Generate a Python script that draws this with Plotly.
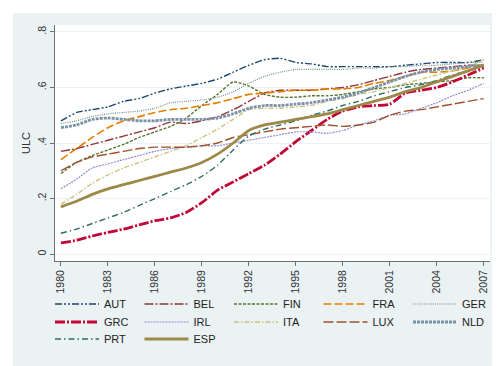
import plotly.graph_objects as go

years = list(range(1980, 2008))
x_ticks = [1980, 1983, 1986, 1989, 1992, 1995, 1998, 2001, 2004, 2007]
y_ticks = [0, 0.2, 0.4, 0.6, 0.8]
y_ticktext = ["0", ".2", ".4", ".6", ".8"]

AUT = [0.48, 0.51, 0.52, 0.53, 0.55, 0.56, 0.58, 0.595, 0.605, 0.615, 0.63, 0.655, 0.68, 0.70, 0.705, 0.69, 0.685, 0.675, 0.675, 0.675, 0.675, 0.675, 0.68, 0.685, 0.69, 0.69, 0.69, 0.70]
BEL = [0.37, 0.38, 0.395, 0.41, 0.425, 0.44, 0.455, 0.475, 0.47, 0.48, 0.495, 0.52, 0.55, 0.58, 0.59, 0.59, 0.59, 0.595, 0.60, 0.61, 0.625, 0.64, 0.655, 0.665, 0.67, 0.675, 0.68, 0.68]
FIN = [0.29, 0.33, 0.355, 0.375, 0.395, 0.42, 0.44, 0.46, 0.49, 0.535, 0.575, 0.62, 0.605, 0.575, 0.565, 0.565, 0.57, 0.57, 0.575, 0.585, 0.595, 0.60, 0.61, 0.615, 0.62, 0.625, 0.635, 0.635]
FRA = [0.34, 0.38, 0.42, 0.455, 0.48, 0.495, 0.51, 0.52, 0.525, 0.535, 0.545, 0.56, 0.575, 0.58, 0.585, 0.59, 0.59, 0.595, 0.595, 0.60, 0.615, 0.625, 0.64, 0.655, 0.655, 0.66, 0.67, 0.685]
GER = [0.47, 0.48, 0.495, 0.505, 0.51, 0.515, 0.525, 0.545, 0.55, 0.555, 0.565, 0.585, 0.615, 0.64, 0.655, 0.665, 0.665, 0.665, 0.665, 0.67, 0.67, 0.675, 0.675, 0.68, 0.68, 0.685, 0.69, 0.69]
GRC = [0.04, 0.05, 0.065, 0.078, 0.09, 0.105, 0.12, 0.13, 0.15, 0.185, 0.23, 0.26, 0.29, 0.32, 0.36, 0.405, 0.445, 0.485, 0.515, 0.53, 0.535, 0.54, 0.58, 0.59, 0.60, 0.62, 0.645, 0.67]
IRL = [0.235, 0.27, 0.31, 0.325, 0.34, 0.355, 0.37, 0.38, 0.385, 0.39, 0.39, 0.40, 0.41, 0.42, 0.43, 0.44, 0.44, 0.435, 0.445, 0.465, 0.48, 0.50, 0.505, 0.525, 0.545, 0.57, 0.59, 0.615]
ITA = [0.18, 0.215, 0.255, 0.285, 0.31, 0.33, 0.35, 0.37, 0.39, 0.42, 0.45, 0.485, 0.52, 0.525, 0.525, 0.53, 0.535, 0.55, 0.56, 0.575, 0.585, 0.60, 0.615, 0.63, 0.645, 0.66, 0.675, 0.70]
LUX = [0.30, 0.33, 0.35, 0.36, 0.37, 0.38, 0.385, 0.385, 0.385, 0.39, 0.40, 0.42, 0.43, 0.44, 0.45, 0.455, 0.46, 0.465, 0.46, 0.465, 0.475, 0.50, 0.515, 0.52, 0.53, 0.54, 0.55, 0.56]
NLD = [0.455, 0.465, 0.485, 0.49, 0.485, 0.48, 0.48, 0.485, 0.485, 0.485, 0.49, 0.505, 0.525, 0.535, 0.535, 0.54, 0.545, 0.555, 0.565, 0.58, 0.60, 0.62, 0.64, 0.655, 0.665, 0.67, 0.675, 0.68]
PRT = [0.075, 0.09, 0.11, 0.13, 0.15, 0.175, 0.20, 0.225, 0.25, 0.28, 0.32, 0.375, 0.425, 0.45, 0.465, 0.48, 0.50, 0.515, 0.535, 0.55, 0.57, 0.585, 0.60, 0.61, 0.625, 0.645, 0.66, 0.675]
ESP = [0.17, 0.19, 0.215, 0.235, 0.25, 0.265, 0.28, 0.295, 0.31, 0.33, 0.36, 0.40, 0.445, 0.465, 0.475, 0.485, 0.495, 0.505, 0.52, 0.535, 0.55, 0.565, 0.585, 0.60, 0.62, 0.64, 0.66, 0.68]

series = [
    ("AUT", AUT, "#1a476f", "7px,2px,2px,2px,2px,2px", 1.4, "legend"),
    ("BEL", BEL, "#90353b", "9px,2px,2px,2px", 1.4, "legend"),
    ("FIN", FIN, "#55752f", "3px,1.5px", 1.4, "legend"),
    ("FRA", FRA, "#e37e00", "8px,3px", 1.6, "legend"),
    ("GER", GER, "#6e8e84", "1px,1.2px", 1.2, "legend"),
    ("GRC", GRC, "#c10534", "10px,2px,2px,2px", 2.8, "legend2"),
    ("IRL", IRL, "#938dd2", "2px,1px", 1.2, "legend2"),
    ("ITA", ITA, "#cac27e", "5px,2px,1.5px,2px", 1.4, "legend2"),
    ("LUX", LUX, "#a0522d", "10px,3px", 1.4, "legend2"),
    ("NLD", NLD, "#7b92a8", "3px,1px", 2.8, "legend2"),
    ("PRT", PRT, "#2d6d66", "6px,3px,1.5px,3px", 1.4, "legend3"),
    ("ESP", ESP, "#9c8847", "solid", 2.8, "legend3"),
]

fig = go.Figure()
for name, vals, color, dash, width, leg in series:
    fig.add_trace(go.Scatter(
        x=years, y=vals, name=name, mode="lines", legend=leg,
        line=dict(color=color, dash=dash, width=width, shape="spline", smoothing=0.6),
    ))

font_family = "Liberation Sans, Arial, sans-serif"
W, H = 500, 366
ml, mr, mt, mb = 47, 18, 17, 113
pw, ph = W - ml - mr, H - mt - mb


def legend_row(py):
    return dict(
        orientation="h",
        x=-5 / pw, xanchor="left",
        y=(H - mb - py) / ph, yanchor="middle",
        bgcolor="rgba(0,0,0,0)",
        font=dict(family=font_family, size=11, color="#222222"),
        itemwidth=44,
        entrywidth=30.5, entrywidthmode="pixels",
    )


fig.update_layout(
    width=W, height=H,
    margin=dict(l=ml, r=mr, t=mt, b=mb, pad=0),
    paper_bgcolor="#eaf2f3",
    plot_bgcolor="white",
    font=dict(family=font_family, size=11, color="#333333"),
    showlegend=True,
    legend=legend_row(296),
    legend2=legend_row(314),
    legend3=legend_row(331),
    shapes=[dict(
        type="rect", xref="paper", yref="paper",
        x0=-ml / pw, x1=1 + mr / pw,
        y0=-mb / ph, y1=1 + mt / ph,
        line=dict(color="white", width=10), fillcolor="rgba(0,0,0,0)",
        layer="below",
    )],
)

fig.update_xaxes(
    range=[1979.62, 2007.4],
    tickvals=x_ticks, ticktext=[str(t) for t in x_ticks],
    tickangle=-90, ticks="outside", ticklen=4, tickcolor="#707070",
    showline=True, linecolor="#707070", linewidth=1,
    showgrid=False, zeroline=False,
    tickfont=dict(size=10.5, color="#333333"),
)
fig.update_yaxes(
    range=[-0.025, 0.825],
    tickvals=y_ticks, ticktext=y_ticktext,
    tickangle=-90, ticks="outside", ticklen=4, tickcolor="#707070",
    showline=True, linecolor="#707070", linewidth=1,
    showgrid=True, gridcolor="#eaf2f3", gridwidth=1,
    zeroline=False,
    tickfont=dict(size=10.5, color="#333333"),
    title=dict(text="ULC", font=dict(size=11, color="#333333"), standoff=2),
)

fig.write_html("out.html")
